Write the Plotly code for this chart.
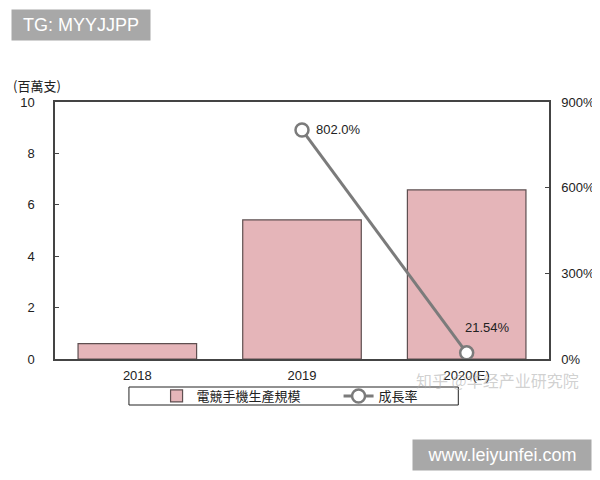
import plotly.graph_objects as go

years = ["2018", "2019", "2020(E)"]
output = [0.6, 5.41, 6.58]          # 百萬支
growth = [None, 802.0, 21.54]       # %
growth_labels = ["", "802.0%", "21.54%"]

bar_name = "電競手機生產規模"
line_name = "成長率"

cjk = "Noto Sans CJK TC"
latin = "Liberation Sans, Arial, sans-serif"

fig = go.Figure()

fig.add_trace(go.Bar(
    x=years, y=output, name=bar_name,
    marker=dict(color="#e5b5b9", line=dict(color="#5e4f50", width=1.2)),
    width=0.72,
))

fig.add_trace(go.Scatter(
    x=years, y=growth, name=line_name, yaxis="y2",
    mode="lines+markers",
    line=dict(color="#7b7b7b", width=3),
    marker=dict(size=13, color="white", line=dict(color="#7b7b7b", width=2.5)),
    cliponaxis=False,
))

# data labels next to the growth points (category index, since "2019" would be read as an index)
label_shift = [None, (12, 0, "left"), (21, 25, "center")]
for i, (g, lab, sh) in enumerate(zip(growth, growth_labels, label_shift)):
    if g is None:
        continue
    fig.add_annotation(
        x=i, y=g, xref="x", yref="y2", text=lab, showarrow=False,
        xanchor=sh[2], yanchor="middle", xshift=sh[0], yshift=sh[1],
        font=dict(family=latin, size=13, color="#222222"),
    )

# page shows the figure with an 8px body margin, so margins are shifted by 8
fig.update_layout(
    width=600, height=480,
    margin=dict(l=38, r=59, t=94, b=129),
    paper_bgcolor="white", plot_bgcolor="white",
    font=dict(family=latin, size=13, color="#222222"),
    xaxis=dict(
        type="category", range=[-0.5, len(years) - 0.5],
        showline=True, linecolor="#444444", linewidth=1.5, mirror=True,
        ticks="", tickfont=dict(family=latin, size=13),
        ticklabelstandoff=4,
    ),
    yaxis=dict(
        range=[0, 10], dtick=2, showgrid=False,
        showline=True, linecolor="#444444", linewidth=1.5,
        ticks="inside", ticklen=4, tickcolor="#444444",
        zeroline=False, tickfont=dict(family=latin, size=13),
        ticklabelstandoff=16,
    ),
    yaxis2=dict(
        range=[0, 900], dtick=300, ticksuffix="%", overlaying="y", side="right",
        showgrid=False, showline=True, linecolor="#444444", linewidth=1.5,
        ticks="inside", ticklen=4, tickcolor="#444444",
        zeroline=False, tickfont=dict(family=latin, size=13),
        ticklabelstandoff=8,
    ),
    legend=dict(
        orientation="h", x=0.2056, xanchor="left", y=-0.144, yanchor="middle",
        borderwidth=0, bgcolor="rgba(0,0,0,0)",
        font=dict(family=cjk, size=13), traceorder="normal",
        entrywidth=137,
    ),
    showlegend=True,
)

# legend frame
fig.add_shape(
    type="rect", xref="paper", yref="paper",
    x0=0.1497, x1=0.8164, y0=-0.179, y1=-0.109,
    line=dict(color="#222222", width=1), fillcolor="rgba(0,0,0,0)", layer="below",
)

# unit label above the left axis
fig.add_annotation(
    text="(百萬支)", xref="paper", yref="paper", x=-0.036, y=1.066,
    xanchor="center", yanchor="middle", showarrow=False,
    font=dict(family=cjk, size=13, color="#222222"),
)

# faint watermark
fig.add_annotation(
    text="知乎 @华经产业研究院", xref="paper", yref="paper", x=0.896, y=-0.082,
    xanchor="center", yanchor="middle", showarrow=False,
    font=dict(family=cjk, size=16, color="rgba(170,170,170,0.55)"),
)

# grey label boxes
fig.add_annotation(
    text="TG: MYYJJPP", xref="paper", yref="paper",
    x=0.052, y=1.300, xanchor="center", yanchor="middle", showarrow=False,
    bgcolor="#a8a8a8", font=dict(family=latin, size=18, color="white"),
    width=134, height=26, align="center", borderpad=2,
)
fig.add_annotation(
    text="www.leiyunfei.com", xref="paper", yref="paper",
    x=0.904, y=-0.3735, xanchor="center", yanchor="middle", showarrow=False,
    bgcolor="#a8a8a8", font=dict(family=latin, size=18, color="white"),
    width=174, height=26, align="center", borderpad=2,
)

fig.write_html("out.html")
